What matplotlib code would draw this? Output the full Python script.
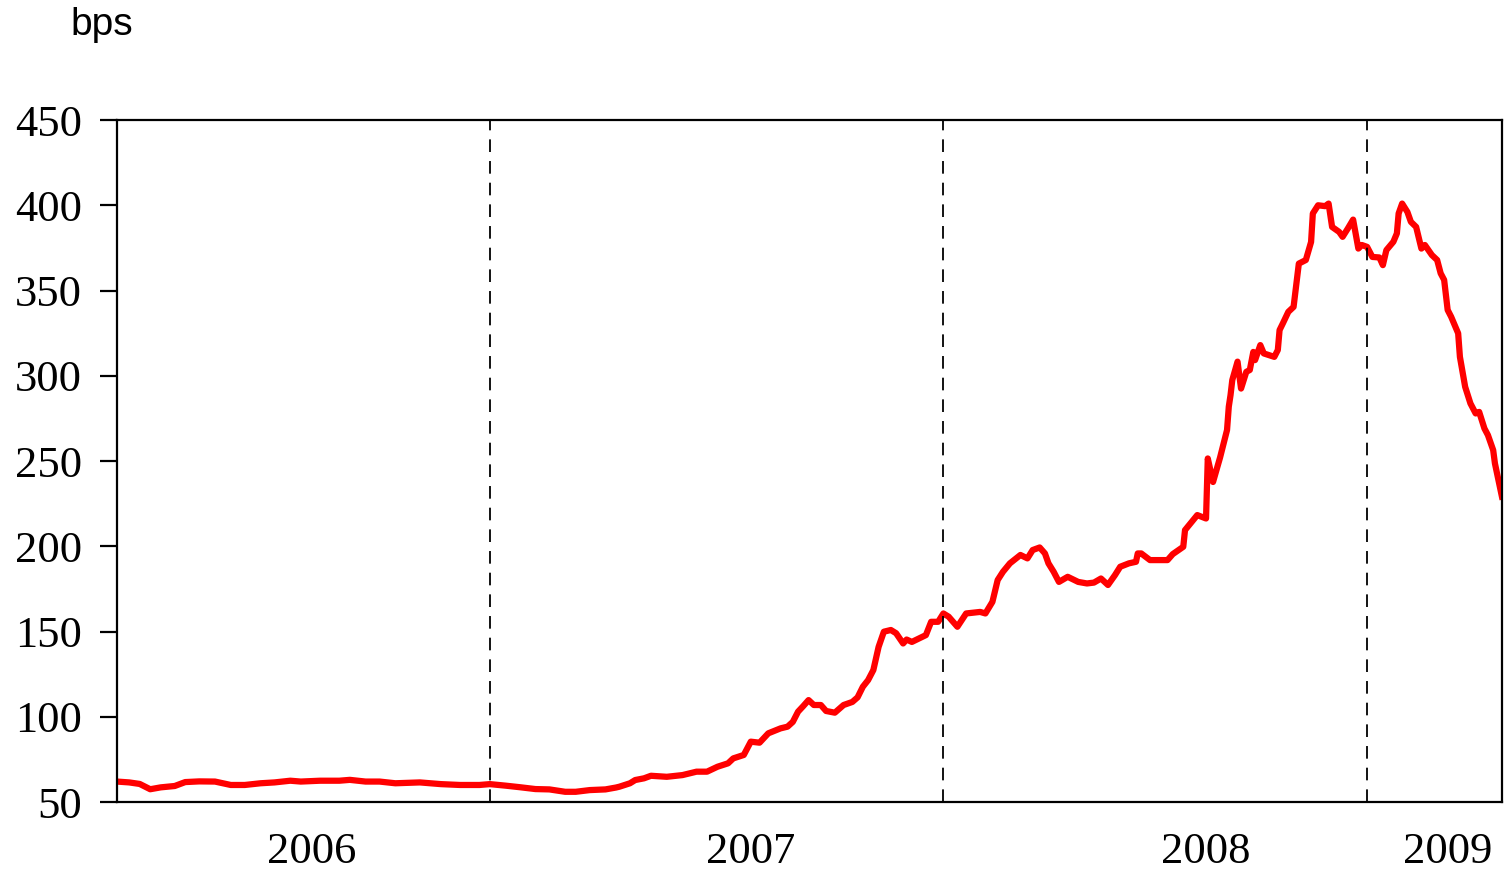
import matplotlib
matplotlib.use('Agg')
import matplotlib.pyplot as plt
import matplotlib.transforms as mtransforms

# observation index (trading days from start of sample) and spread in bps
day = [0, 7, 13, 19, 25, 33, 39, 47, 56, 65, 73, 82, 90, 99, 105, 116, 127, 133,
       142, 150, 159, 173, 185, 196, 207, 213, 222, 230, 239, 247, 256, 262, 270,
       279, 285, 287, 293, 296, 301, 305, 314, 323, 331, 337, 343, 349, 352, 358,
       362, 367, 372, 379, 383, 386, 389, 392, 395, 398, 402, 405, 410, 415, 420,
       423, 426, 429, 432, 435, 438, 442, 445, 449, 451, 454, 458, 462, 465, 469,
       472, 475, 480, 485, 493, 496, 500, 503, 506, 510, 516, 520, 523, 527, 530,
       532, 535, 538, 543, 549, 554, 558, 562, 566, 570, 573, 578, 582, 583, 585,
       590, 600, 603, 609, 610, 617, 622, 623, 626, 630, 634, 635, 636, 637, 640,
       642, 645, 647, 649, 650, 653, 655, 661, 663, 664, 666, 669, 672, 675, 679,
       682, 683, 686, 690, 692, 694, 698, 700, 703, 706, 709, 711, 714, 717, 721,
       723, 725, 729, 731, 732, 734, 737, 739, 742, 745, 747, 751, 754, 756, 758,
       760, 762, 766, 767, 770, 773, 776, 778, 781, 783, 786, 787, 789, 791]
bps = [62, 61.5, 60.6, 57.5, 58.6, 59.4, 61.7, 62.1, 62, 60, 60, 61, 61.5, 62.5,
       62, 62.5, 62.5, 63, 62, 62, 61, 61.5, 60.5, 60, 60, 60.5, 59.6, 58.7, 57.6,
       57.4, 56, 56, 57, 57.4, 58.5, 59, 61, 62.9, 63.9, 65.4, 64.8, 65.8, 67.8,
       67.8, 70.7, 72.7, 75.6, 77.6, 85.4, 84.8, 90.3, 93.2, 94.2, 97, 103, 106.3,
       109.8, 106.9, 106.9, 103.4, 102.4, 106.9, 108.7, 111.4, 117.6, 121.5, 127.4,
       141, 149.9, 150.9, 149, 143, 145.3, 143.9, 145.9, 147.9, 155.7, 155.7, 160.6,
       158.7, 152.8, 160.6, 161.5, 160.6, 167.4, 180.2, 185, 190, 194.9, 192.9,
       197.8, 199.3, 195.8, 190, 185, 179.1, 182.1, 179.1, 178.2, 178.7, 181.1,
       177.3, 183.1, 188, 190, 190.9, 195.8, 195.8, 191.9, 191.9, 195.4, 199.7,
       209.5, 218.3, 216.3, 251.5, 237.7, 252, 268.2, 281.9, 288.7, 297.5, 308.3,
       292.5, 302.3, 303.4, 314, 309.2, 318, 313.1, 311.1, 315.1, 326.8, 331,
       337.5, 340.4, 365.8, 367.9, 378.5, 395.2, 400, 399.5, 401, 387.3, 384.4,
       381.5, 386.4, 391.6, 374.6, 376.7, 375.6, 369.7, 369.4, 364.9, 373.7,
       378.6, 383.5, 395.2, 401, 396.1, 390.3, 387.3, 374.6, 376.7, 370.8, 367.9,
       360.1, 356.2, 338.6, 334.6, 324.9, 311.1, 293.5, 283.8, 277.9, 278.8,
       269.1, 265.2, 256.4, 248.6, 238.9, 229.1]

year_starts = [213, 472, 714]
year_labels = ['2006', '2007', '2008', '2009']
year_label_pos = [111, 362, 622, 760]
yticks = [50, 100, 150, 200, 250, 300, 350, 400, 450]

fig = plt.figure(figsize=(15.11, 8.73), dpi=100)
ax = fig.add_axes([0.0774, 0.0813, 0.9166, 0.7812])

ax.plot(day, bps, color='#ff0000', lw=4.5, solid_joinstyle='round')
for d in year_starts:
    ax.axvline(d, color='black', lw=1.3, ls=(0, (7, 5)))

ax.set_xlim(0, 791)
ax.set_ylim(50, 450)
ax.set_yticks(yticks)
ax.set_xticks([])
ax.tick_params(axis='y', direction='out', length=12, width=1.6, pad=13)
for lab in ax.get_yticklabels():
    lab.set_fontfamily('Liberation Serif')
    lab.set_fontsize(32)
for s in ax.spines.values():
    s.set_linewidth(1.6)

trans = mtransforms.blended_transform_factory(ax.transData, ax.transAxes)
for pos, lab in zip(year_label_pos, year_labels):
    ax.text(pos, -0.073, lab, transform=trans, ha='center', va='center',
            fontsize=32, fontfamily='Liberation Serif')

fig.text(102 / 1511, 1 - 25 / 873, 'bps', ha='center', va='center',
         fontsize=28, fontfamily='Liberation Sans')

fig.savefig('out.png', dpi=100)
